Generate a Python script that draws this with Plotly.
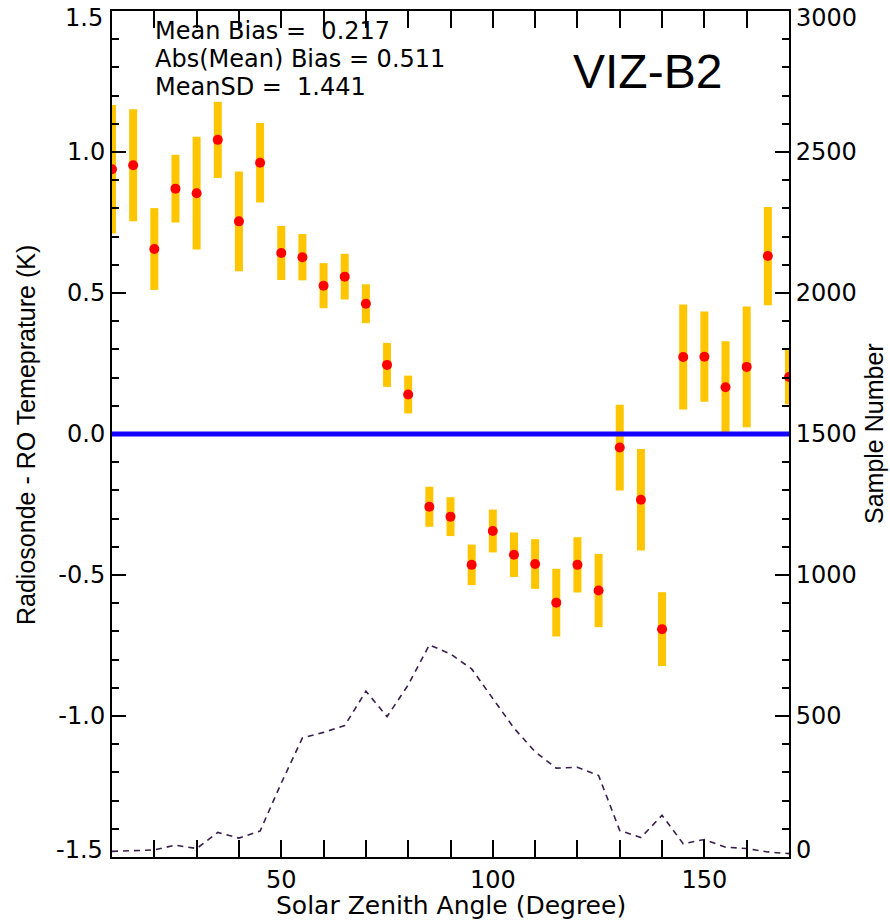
import plotly.graph_objects as go

# Solar zenith angle bins (degrees)
SZA = [10, 15, 20, 25, 30, 35, 40, 45, 50, 55, 60, 65, 70, 75, 80, 85, 90,
       95, 100, 105, 110, 115, 120, 125, 130, 135, 140, 145, 150, 155, 160,
       165, 170]

# Mean radiosonde - RO temperature difference per bin (K)
BIAS = [0.939, 0.953, 0.656, 0.870, 0.854, 1.043, 0.754, 0.962, 0.642, 0.627,
        0.526, 0.558, 0.462, 0.245, 0.140, -0.258, -0.293, -0.464, -0.344,
        -0.428, -0.461, -0.598, -0.464, -0.555, -0.048, -0.233, -0.692, 0.273,
        0.274, 0.166, 0.238, 0.631, 0.202]

# Half-length of the uncertainty bar per bin (K)
ERR = [0.228, 0.199, 0.145, 0.120, 0.200, 0.135, 0.177, 0.141, 0.096, 0.082,
       0.080, 0.081, 0.069, 0.078, 0.067, 0.071, 0.069, 0.072, 0.076, 0.079,
       0.088, 0.120, 0.098, 0.130, 0.152, 0.180, 0.131, 0.186, 0.160, 0.163,
       0.214, 0.174, 0.097]

# Number of collocated samples per bin
COUNT = [20, 22, 25, 42, 30, 87, 67, 92, 262, 422, 442, 466, 588, 498, 610,
         752, 720, 667, 560, 457, 373, 315, 318, 289, 94, 69, 148, 47, 62, 35,
         30, 18, 12]

# Axis ticks
X_TICKS = [50, 100, 150]
X_TICK_LABELS = ["50", "100", "150"]
Y_TICKS = [-1.5, -1.0, -0.5, 0.0, 0.5, 1.0, 1.5]
Y_TICK_LABELS = ["-1.5", "-1.0", "-0.5", "0.0", "0.5", "1.0", "1.5"]
Y2_TICKS = [0, 500, 1000, 1500, 2000, 2500, 3000]
Y2_TICK_LABELS = ["0", "500", "1000", "1500", "2000", "2500", "3000"]

STATS = ["Mean Bias =  0.217", "Abs(Mean) Bias = 0.511", "MeanSD =  1.441"]
PANEL = "VIZ-B2"

TICK_FONT = dict(family="DejaVu Sans", size=24, color="black")

# Plot-area geometry in pixels (used to place edge labels and texts)
PLOT_TOP, PLOT_H = 9, 848
PLOT_LEFT, PLOT_W = 112, 677


def py(pix):
    """Pixel row -> paper y."""
    return 1 - (pix - PLOT_TOP) / PLOT_H


def px(pix):
    """Pixel column -> paper x."""
    return (pix - PLOT_LEFT) / PLOT_W


fig = go.Figure()

# Sample count on the right axis
fig.add_trace(go.Scatter(
    x=SZA, y=COUNT, yaxis="y2", mode="lines",
    line=dict(color="#3a1f4f", width=1.6, dash="6px,5px"),
    hoverinfo="skip", showlegend=False,
))

# Zero-bias reference line
fig.add_shape(type="line", xref="paper", x0=0, x1=1, yref="y", y0=0, y1=0,
              line=dict(color="#1400ff", width=5), layer="above")

# Bias with uncertainty bars
fig.add_trace(go.Scatter(
    x=SZA, y=BIAS, mode="markers",
    marker=dict(color="#ff0000", size=10, line=dict(width=0)),
    error_y=dict(type="data", array=ERR, visible=True, color="#ffc600",
                 thickness=8, width=0),
    showlegend=False,
))

# Edge labels are drawn separately, nudged inside the frame
y_text = [("" if i in (0, len(Y_TICKS) - 1) else t)
          for i, t in enumerate(Y_TICK_LABELS)]
y2_text = [("" if i in (0, len(Y2_TICKS) - 1) else t)
           for i, t in enumerate(Y2_TICK_LABELS)]

fig.update_layout(
    width=890, height=921,
    margin=dict(l=112, r=101, t=9, b=64),
    paper_bgcolor="white", plot_bgcolor="white",
    font=TICK_FONT,
    xaxis=dict(
        range=[10, 170], showgrid=False, zeroline=False,
        showline=True, linecolor="black", linewidth=2, mirror="allticks",
        ticks="inside", ticklen=17, tickwidth=2, tickcolor="black",
        tickvals=X_TICKS, ticktext=X_TICK_LABELS, tickfont=TICK_FONT,
        minor=dict(dtick=10, tick0=0, ticks="inside", ticklen=8,
                   tickwidth=2, tickcolor="black", showgrid=False),
    ),
    yaxis=dict(
        range=[-1.5, 1.5], showgrid=False, zeroline=False,
        showline=True, linecolor="black", linewidth=2,
        ticks="inside", ticklen=14, tickwidth=2, tickcolor="black",
        tickvals=Y_TICKS, ticktext=y_text, tickfont=TICK_FONT,
        minor=dict(dtick=0.1, tick0=0, ticks="inside", ticklen=7,
                   tickwidth=2, tickcolor="black", showgrid=False),
    ),
    yaxis2=dict(
        range=[0, 3000], overlaying="y", side="right", showgrid=False,
        zeroline=False, showline=True, linecolor="black", linewidth=2,
        ticks="inside", ticklen=14, tickwidth=2, tickcolor="black",
        tickvals=Y2_TICKS, ticktext=y2_text, tickfont=TICK_FONT,
        minor=dict(dtick=100, tick0=0, ticks="inside", ticklen=7,
                   tickwidth=2, tickcolor="black", showgrid=False),
    ),
)

# Edge tick labels
fig.add_annotation(xref="paper", yref="paper", x=px(105), y=py(16),
                   xanchor="right", yanchor="middle", showarrow=False,
                   text=Y_TICK_LABELS[-1], font=TICK_FONT)
fig.add_annotation(xref="paper", yref="paper", x=px(105), y=py(850),
                   xanchor="right", yanchor="middle", showarrow=False,
                   text=Y_TICK_LABELS[0], font=TICK_FONT)
fig.add_annotation(xref="paper", yref="paper", x=px(794), y=py(16),
                   xanchor="left", yanchor="middle", showarrow=False,
                   text=Y2_TICK_LABELS[-1], font=TICK_FONT)
fig.add_annotation(xref="paper", yref="paper", x=px(794), y=py(850),
                   xanchor="left", yanchor="middle", showarrow=False,
                   text=Y2_TICK_LABELS[0], font=TICK_FONT)

# Summary statistics
for line, row in zip(STATS, [29, 57, 85]):
    fig.add_annotation(
        xref="paper", yref="paper", x=px(153), y=py(row),
        xanchor="left", yanchor="middle", text=line, showarrow=False,
        font=dict(family="DejaVu Sans", size=24, color="black"),
    )

# Panel label
fig.add_annotation(
    xref="paper", yref="paper", x=px(571), y=py(70), xanchor="left",
    yanchor="middle", text=PANEL, showarrow=False,
    font=dict(family="Liberation Sans", size=48, color="black"),
)

# Axis titles
fig.add_annotation(
    xref="paper", yref="paper", x=0.5, y=py(906), xanchor="center",
    yanchor="middle", text="Solar Zenith Angle (Degree)", showarrow=False,
    font=dict(family="DejaVu Sans", size=25, color="black"),
)
fig.add_annotation(
    xref="paper", yref="paper", x=px(26), y=py(434), xanchor="center",
    yanchor="middle", text="Radiosonde - RO Temeprature (K)", showarrow=False,
    textangle=-90, font=dict(family="Liberation Sans", size=25, color="black"),
)
fig.add_annotation(
    xref="paper", yref="paper", x=px(874), y=py(432), xanchor="center",
    yanchor="middle", text="Sample Number", showarrow=False,
    textangle=-90, font=dict(family="Liberation Sans", size=25, color="black"),
)

fig.write_html("out.html")
